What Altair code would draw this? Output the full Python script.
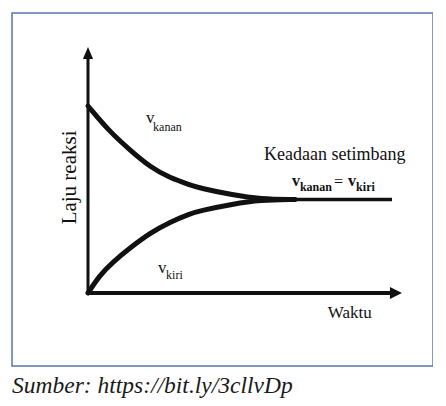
import altair as alt
import pandas as pd

# ---- data (time units, rate units) ----
t_kanan = [0, 0.72, 1.38, 2.04, 2.70, 3.36, 3.68, 4.77, 5.66, 6.8]
r_kanan = [10.0, 8.61, 7.65, 6.74, 6.15, 5.78, 5.61, 5.24, 5.03, 5.0]
t_kiri = [0, 0.39, 0.82, 1.38, 2.04, 2.70, 3.36, 3.68, 4.77, 5.66, 6.8]
r_kiri = [0, 0.96, 1.66, 2.41, 3.21, 3.80, 4.24, 4.40, 4.76, 4.97, 5.0]
t_eq = [5.66, 10.0]
r_eq = [5.0, 5.0]

# axes drawn as arrows
x_axis_t = [-0.05, 10.13]
y_axis_r = [0, 12.83]
arrow_t = [10.13, 0.0]
arrow_r = [0.0, 12.83]
arrow_shape = ["M-1,-1L1,0L-1,1Z", "M0,-1L0.85,1L-0.85,1Z"]

# labels
lab_text = ["v", "kanan", "v", "kiri", "Keadaan setimbang", "=", "Waktu"]
lab_t = [1.91, 2.14, 2.30, 2.57, 5.79, 8.09, 7.89]
lab_r = [9.09, 8.66, 1.07, 0.75, 7.11, 5.67, -1.34]
lab_size = [17, 12, 17, 12, 18, 16, 17]

bold_text = ["v", "kanan", "v", "kiri"]
bold_t = [6.71, 6.97, 8.55, 8.82]
bold_r = [5.72, 5.45, 5.72, 5.45]
bold_size = [16, 12, 16, 12]

ylabel = "Laju reaksi"
caption = "Sumber: https://bit.ly/3cllvDp"

FONT = "'Liberation Serif', 'DejaVu Serif', serif"
INK = "#111111"
BORDER = "#5a7bab"

xs = alt.Scale(domain=[-2.5, 11.349], nice=False, zero=False)
ys = alt.Scale(domain=[-3.904, 14.973], nice=False, zero=False)

def X(f):
    return alt.X(f, type="quantitative", scale=xs, axis=None)

def Y(f):
    return alt.Y(f, type="quantitative", scale=ys, axis=None)

curves = pd.concat([
    pd.DataFrame({"t": t_kanan, "r": r_kanan, "s": "kanan"}),
    pd.DataFrame({"t": t_kiri, "r": r_kiri, "s": "kiri"}),
])

curve_layer = alt.Chart(curves).mark_line(
    color=INK, strokeWidth=5, interpolate="basis", strokeCap="round"
).encode(x=X("t"), y=Y("r"), detail="s:N")

eq_layer = alt.Chart(pd.DataFrame({"t": t_eq, "r": r_eq})).mark_line(
    color=INK, strokeWidth=3.5
).encode(x=X("t"), y=Y("r"))

xaxis = alt.Chart(pd.DataFrame({"t": [x_axis_t[0]], "t2": [x_axis_t[1]], "r": [0.0]})).mark_rule(
    color=INK, strokeWidth=4
).encode(x=X("t"), x2="t2", y=Y("r"))

yaxis = alt.Chart(pd.DataFrame({"t": [0.0], "r": [y_axis_r[0]], "r2": [y_axis_r[1]]})).mark_rule(
    color=INK, strokeWidth=3
).encode(x=X("t"), y=Y("r"), y2="r2")

arrows = pd.DataFrame({"t": arrow_t, "r": arrow_r, "shape": arrow_shape})
arrow_layer = alt.Chart(arrows).mark_point(
    filled=True, color=INK, size=144, opacity=1
).encode(x=X("t"), y=Y("r"), shape=alt.Shape("shape:N", scale=None))

labels = pd.DataFrame({"text": lab_text, "t": lab_t, "r": lab_r, "size": lab_size})
label_layer = alt.Chart(labels).mark_text(
    font=FONT, color=INK, align="left", baseline="alphabetic"
).encode(x=X("t"), y=Y("r"), text="text:N", size=alt.Size("size:Q", scale=None))

bold = pd.DataFrame({"text": bold_text, "t": bold_t, "r": bold_r, "size": bold_size})
bold_layer = alt.Chart(bold).mark_text(
    font=FONT, color=INK, align="left", baseline="alphabetic", fontWeight="bold"
).encode(x=X("t"), y=Y("r"), text="text:N", size=alt.Size("size:Q", scale=None))

ylab_layer = alt.Chart(pd.DataFrame({"text": [ylabel], "t": [-0.39], "r": [6.18]})).mark_text(
    font=FONT, color=INK, align="center", baseline="alphabetic", angle=270, fontSize=21
).encode(x=X("t"), y=Y("r"), text="text:N")

frame_layer = alt.Chart(pd.DataFrame({"k": [0]})).mark_rect(
    filled=False, stroke=BORDER, strokeWidth=1.5
).encode(x=alt.value(0), x2=alt.value(421), y=alt.value(0), y2=alt.value(353))

chart = alt.layer(
    frame_layer, curve_layer, eq_layer, xaxis, yaxis, arrow_layer, label_layer, bold_layer, ylab_layer
).properties(
    width=421,
    height=353,
    autosize=alt.AutoSizeParams(type="none"),
    padding={"left": 4, "top": 5, "right": 0, "bottom": 37},
    title=alt.TitleParams(
        caption, orient="bottom", anchor="start", frame="group",
        font=FONT, fontSize=23.5, fontStyle="italic", fontWeight="normal",
        color="#1a1a1a", offset=7,
    ),
).configure_view(stroke=None).configure(background="white")

chart.save("out.html", embed_options={"renderer": "svg", "actions": False})
